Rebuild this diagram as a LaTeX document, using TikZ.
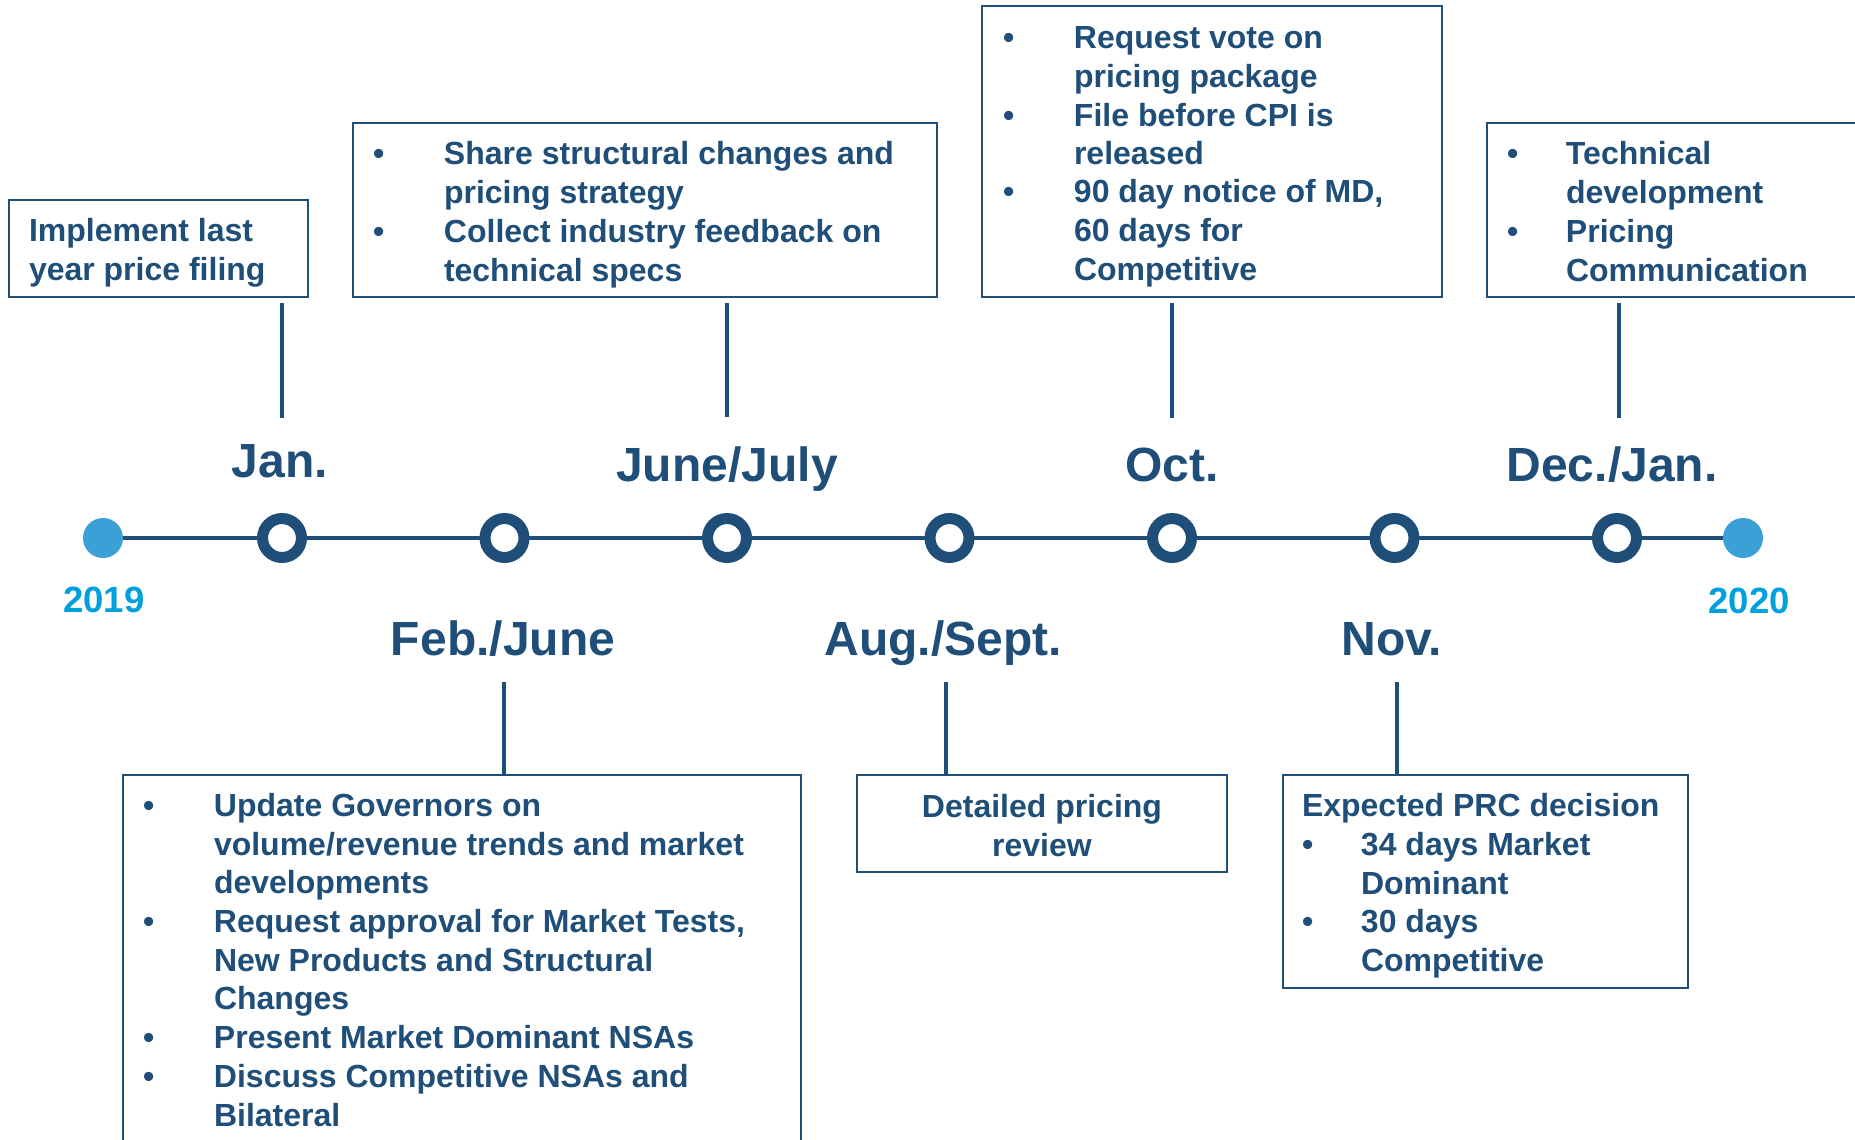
\documentclass[tikz,border=0pt]{standalone}
\usepackage{fontspec}
\setmainfont{Liberation Sans}
\usepackage{array}
\definecolor{navy}{RGB}{31,78,121}
\definecolor{yearblue}{RGB}{0,160,220}
\definecolor{dotblue}{RGB}{58,160,214}
\newcommand\ls{\rule[-6pt]{0pt}{38.3pt}}
\newcommand\boxfont{\fontsize{32}{38.3}\selectfont\bfseries}
\renewcommand\arraystretch{0.5}
\tikzset{
  box/.style={draw=navy, line width=2pt, outer sep=0pt, inner ysep=0pt, anchor=north west, text=navy, font=\boxfont},
  month/.style={text=navy, font=\fontsize{48}{52}\selectfont\bfseries, inner sep=0pt, anchor=base},
  year/.style={text=yearblue, font=\fontsize{36.5}{40}\selectfont\bfseries, inner sep=0pt, anchor=base},
  ring/.style={circle, draw=navy, line width=11pt, fill=white, minimum size=39pt, inner sep=0pt},
  enddot/.style={circle, fill=dotblue, minimum size=40pt, inner sep=0pt},
  stem/.style={draw=navy, line width=3.5pt},
  axis/.style={draw=navy, line width=4.5pt}
}

\begin{document}
\begin{tikzpicture}[x=1pt,y=1pt,yscale=-1,xscale=1]
\useasboundingbox (0,0) rectangle (1855,1140);
% timeline
\node[enddot] (y0) at (103,538) {};
\node[enddot] (y1) at (1743,538) {};
\draw[axis] (y0) -- (y1);
\foreach \i/\x in {1/282,2/504.5,3/727,4/949.5,5/1172,6/1394.5,7/1617}
  \node[ring] (m\i) at (\x,538) {};
% Text Node
\draw (104,612) node [year] (yr0) {2019};
% Text Node
\draw (1749,613) node [year] (yr1) {2020};
% Text Node
\draw (280,477) node [month] (l1) {Jan.};
% Text Node
\draw (503,655) node [month] (l2) {Feb./June};
% Text Node
\draw (727,481) node [month] (l3) {June/July};
% Text Node
\draw (943,655) node [month] (l4) {Aug./Sept.};
% Text Node
\draw (1172,481) node [month] (l5) {Oct.};
% Text Node
\draw (1392,655) node [month] (l6) {Nov.};
% Text Node
\draw (1612,481) node [month] (l7) {Dec./Jan.};
% boxes above
\node[box, inner xsep=20pt, minimum width=299pt, minimum height=97pt] (b1) at (9,200)
  {\begin{tabular}{@{}>{\ls}p{259pt}@{}}
   Implement last\\
   year price filing
   \end{tabular}};
\node[box, inner xsep=20pt, minimum width=584pt, minimum height=174pt] (b3) at (353,123)
  {\begin{tabular}{@{}>{\ls}p{71pt}@{}p{473pt}@{}}
   \textbullet & Share structural changes and\\
   & pricing strategy\\
   \textbullet & Collect industry feedback on\\
   & technical specs
   \end{tabular}};
\node[box, inner xsep=21pt, minimum width=460pt, minimum height=291pt] (b5) at (982,6)
  {\begin{tabular}{@{}>{\ls}p{71pt}@{}p{347pt}@{}}
   \textbullet & Request vote on\\
   & pricing package\\
   \textbullet & File before CPI is\\
   & released\\
   \textbullet & 90 day notice of MD,\\
   & 60 days for\\
   & Competitive
   \end{tabular}};
\node[box, inner xsep=20pt, minimum width=390pt, minimum height=174pt] (b7) at (1487,123)
  {\begin{tabular}{@{}>{\ls}p{59pt}@{}p{291pt}@{}}
   \textbullet & Technical\\
   & development\\
   \textbullet & Pricing\\
   & Communication
   \end{tabular}};
% boxes below
\node[box, inner xsep=20pt, minimum width=678pt, minimum height=366pt] (b2) at (123,775)
  {\begin{tabular}{@{}>{\ls}p{71pt}@{}p{567pt}@{}}
   \textbullet & Update Governors on\\
   & volume/revenue trends and market\\
   & developments\\
   \textbullet & Request approval for Market Tests,\\
   & New Products and Structural\\
   & Changes\\
   \textbullet & Present Market Dominant NSAs\\
   \textbullet & Discuss Competitive NSAs and\\
   & Bilateral
   \end{tabular}};
\node[box, inner xsep=10pt, minimum width=370pt, minimum height=97pt] (b4) at (857,775)
  {\begin{tabular}{@{}>{\ls}c@{}}
   Detailed pricing\\
   review
   \end{tabular}};
\node[box, inner xsep=19pt, minimum width=405pt, minimum height=213pt] (b6) at (1283,775)
  {\begin{tabular}{@{}>{\ls}p{59pt}@{}p{308pt}@{}}
   \multicolumn{2}{@{}>{\ls}l@{}}{Expected PRC decision}\\
   \textbullet & 34 days Market\\
   & Dominant\\
   \textbullet & 30 days\\
   & Competitive
   \end{tabular}};
% stems
\coordinate (s1) at (282,303);  \coordinate (e1) at (282,418);
\coordinate (s3) at (727,303);  \coordinate (e3) at (727,417);
\coordinate (s5) at (1172,303); \coordinate (e5) at (1172,418);
\coordinate (s7) at (1619,303); \coordinate (e7) at (1619,418);
\coordinate (s2) at (504,682);
\coordinate (s4) at (946,682);
\coordinate (s6) at (1397,682);
\draw[stem] (s1) -- (e1);
\draw[stem] (s3) -- (e3);
\draw[stem] (s5) -- (e5);
\draw[stem] (s7) -- (e7);
\draw[stem] (s2) -- (s2 |- b2.north);
\draw[stem] (s4) -- (s4 |- b4.north);
\draw[stem] (s6) -- (s6 |- b6.north);
\end{tikzpicture}
\end{document}
